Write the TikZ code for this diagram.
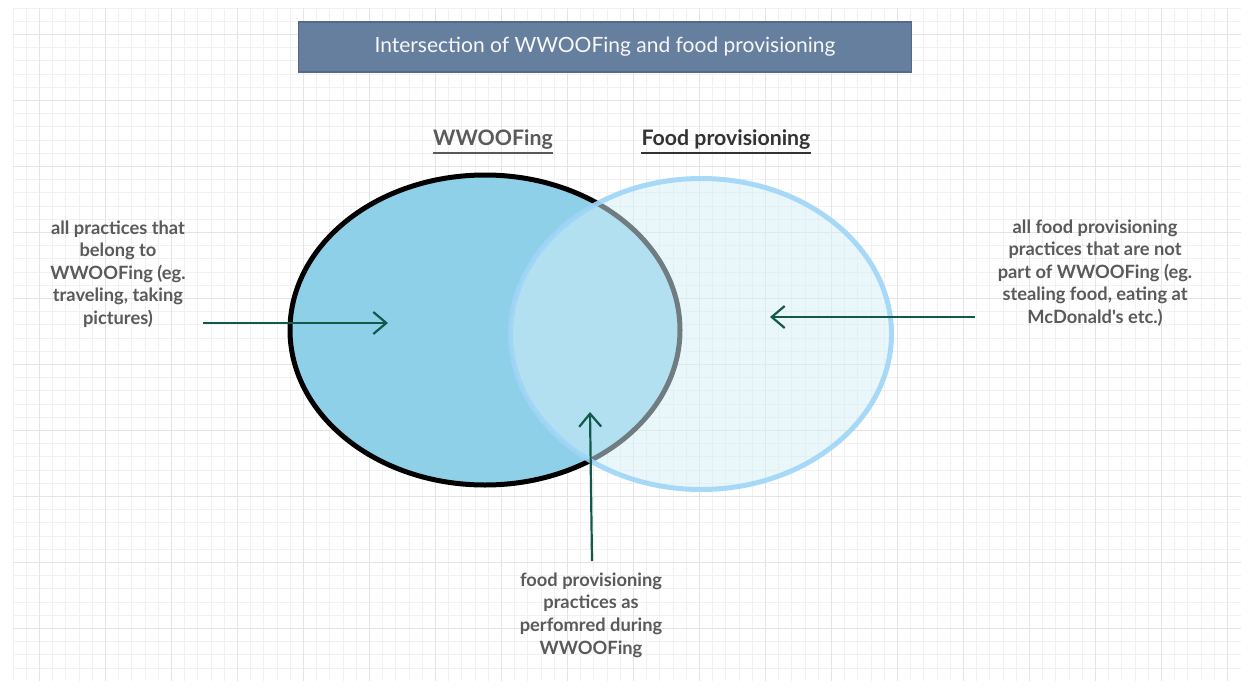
\documentclass[tikz,border=0pt]{standalone}
\usepackage{fontspec}
\setmainfont{Lato}[Ligatures=TeXOff]
\usetikzlibrary{shapes.geometric,arrows.meta}
\definecolor{gridminor}{HTML}{F1F1F1}
\definecolor{gridmajor}{HTML}{E4E4E4}
\definecolor{titlefill}{HTML}{677F9E}
\definecolor{titleedge}{HTML}{55698A}
\definecolor{wwfill}{HTML}{8DD0E8}
\definecolor{fpfill}{HTML}{D6F0F9}
\definecolor{fpedge}{HTML}{9FD5F7}
\definecolor{arrowc}{HTML}{12594B}
\definecolor{textgray}{HTML}{5A5A5A}
\begin{document}
\begin{tikzpicture}[x=1pt,y=-1pt,
  note/.style={align=center,text=textgray,font=\fontsize{18.3}{22.6}\selectfont\bfseries,inner sep=0pt},
  setlabel/.style={font=\fontsize{21.3}{24}\selectfont\bfseries,inner sep=0pt},
  pointer/.style={draw=arrowc,line width=2.2pt,-{Straight Barb[length=13pt,width=22pt,line width=2.2pt]}}]
\useasboundingbox (0,0) rectangle (1253,688);
\fill[white] (0,0) rectangle (1253,688);
% background grid
\foreach \i in {0,...,92} {
  \draw[gridminor,line width=0.8pt] ({13+13.2*\i},8) -- ({13+13.2*\i},681);
}
\foreach \j in {0,...,50} {
  \draw[gridminor,line width=0.8pt] (13,{8+13.2*\j}) -- (1241,{8+13.2*\j});
}
\foreach \j in {0,...,9} {
  \draw[gridmajor,line width=0.8pt] (13,{34.4+66*\j}) -- (1241,{34.4+66*\j});
}
\foreach \i in {0,...,18} {
  \draw[gridmajor,line width=0.8pt] ({39.4+66*\i},8) -- ({39.4+66*\i},681);
}
% title bar
\node[draw=titleedge,fill=titlefill,line width=1.2pt,minimum width=613pt,minimum height=50pt,
      text=white!94!titlefill,font=\fontsize{21}{24}\selectfont] (title) at (605,47)
      {\raisebox{-2pt}{Intersection of WWOOFing and food provisioning}};
% the two sets
\node[ellipse,draw=black,fill=wwfill,line width=5pt,minimum width=390pt,minimum height=310pt] (ww) at (485,330) {};
\node[ellipse,draw=fpedge,draw opacity=0.9,fill=fpfill,fill opacity=0.52,line width=5pt,
      minimum width=381pt,minimum height=311pt] (fp) at (701,334) {};
% set labels, underlined
\node[setlabel,text=textgray] (wwl) at (493,140) {WWOOFing};
\draw[textgray,line width=1.8pt] ([yshift=-7pt]wwl.base west) -- ([yshift=-7pt]wwl.base east);
\node[setlabel,text=black!80] (fpl) at (726,140) {Food provisioning};
\draw[black!80,line width=1.8pt] ([yshift=-7pt]fpl.base west) -- ([yshift=-7pt]fpl.base east);
% explanatory notes
\node[note] (left) at (118,274) {all practices that\\belong to\\WWOOFing (eg.\\traveling, taking\\pictures)};
\node[note] (right) at (1095,273) {all food provisioning\\practices that are not\\part of WWOOFing (eg.\\stealing food, eating at\\McDonald's etc.)};
\node[note] (bottom) at (591,615) {food provisioning\\practices as\\perfomred during\\WWOOFing};
% pointers into the regions
\coordinate (lstart) at (203,323);
\coordinate (lend) at (388,323);
\coordinate (rstart) at (975,317);
\coordinate (rend) at (770,317);
\coordinate (bstart) at (592,561);
\coordinate (bend) at (590,412);
\draw[pointer] (lstart) -- (lend);
\draw[pointer] (rstart) -- (rend);
\draw[pointer] (bstart) -- (bend);
\end{tikzpicture}
\end{document}
